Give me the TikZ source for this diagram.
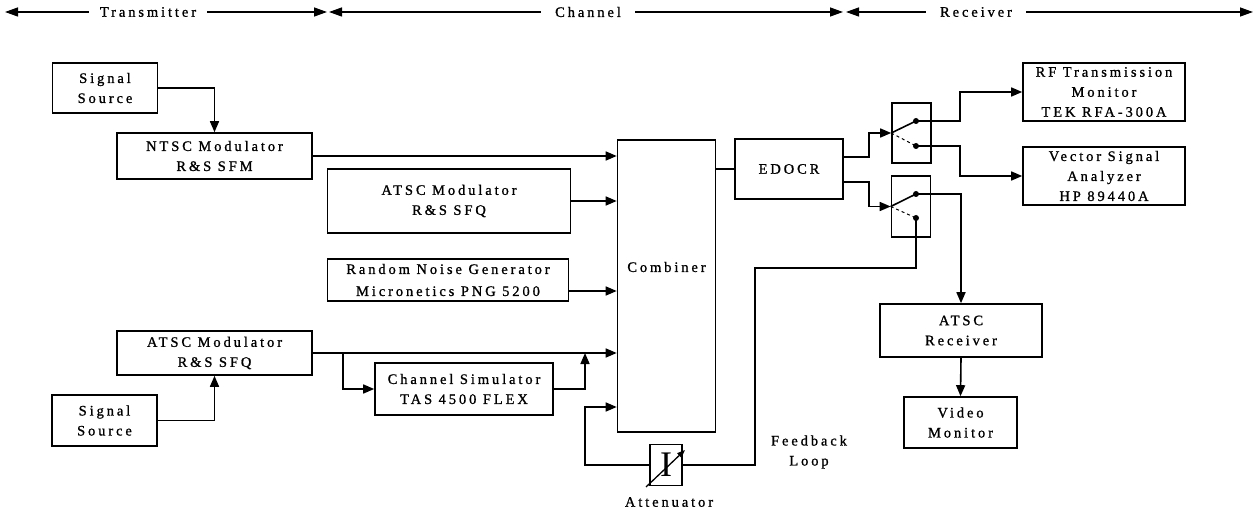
\documentclass[tikz,border=0pt]{standalone}
\usepackage{fontspec}
\setmainfont{Liberation Serif}
\newfontfamily\lsfont{Liberation Serif}[LetterSpace=20,FakeBold=1]
\usetikzlibrary{arrows.meta,positioning,calc}

\begin{document}
\begin{tikzpicture}[x=1pt,y=-1pt,
  box/.style={draw,line width=1.6pt,inner sep=0pt,align=center,font=\lsfont\fontsize{14.5}{20}\selectfont},
  lbl/.style={inner sep=0pt,align=center,font=\lsfont\fontsize{14.5}{20}\selectfont},
  line/.style={line width=1.6pt},
  arr/.style={line width=1.6pt,-{Triangle[length=11pt,width=9pt]}},
  hdr/.style={line width=1.3pt,{Triangle[length=13pt,width=9pt]}-{Triangle[length=13pt,width=9pt]}},
  swbox/.style={draw,line width=1.6pt,minimum width=39,minimum height=60,inner sep=0pt}]
  \useasboundingbox (0,0) rectangle (1255,513);
  % header
  \coordinate (h0) at (5,12);
  \coordinate (h1) at (327,12);
  \coordinate (h2) at (329,12);
  \coordinate (h3) at (843,12);
  \coordinate (h4) at (846,12);
  \coordinate (h5) at (1253,12);
  \draw[hdr] (h0) -- (h1);
  \draw[hdr] (h2) -- (h3);
  \draw[hdr] (h4) -- (h5);
  \node[lbl,fill=white,inner xsep=11pt] (tx) at (148,12) {Transmitter};
  \node[lbl,fill=white,inner xsep=14pt] (ch) at (588,12) {Channel};
  \node[lbl,fill=white,inner xsep=14pt] (rxh) at (976,12) {Receiver};
  % transmitter side
  \node[box,minimum width=105,minimum height=50] (src1) at (105,88) {Signal\\Source};
  \node[box,minimum width=195,minimum height=46] (ntsc) at (214.5,156) {NTSC Modulator\\R\&S SFM};
  \node[box,minimum width=243,minimum height=64] (atsc1) at (449,201) {ATSC Modulator\\R\&S SFQ};
  \node[box,minimum width=241,minimum height=42,font=\lsfont\fontsize{14.5}{22}\selectfont] (rng) at (448,280) {Random Noise Generator\\Micronetics PNG 5200};
  \node[box,minimum width=195,minimum height=44] (atsc2) at (214.5,353) {ATSC Modulator\\R\&S SFQ};
  \node[box,minimum width=105,minimum height=51] (src2) at (104.5,420.5) {Signal\\Source};
  \node[box,minimum width=178,minimum height=52] (chsim) at (464,389) {Channel Simulator\\TAS 4500 FLEX};
  % channel
  \node[box,minimum width=98,minimum height=292] (comb) at (666.5,286) {};
  \node[lbl] (combtxt) at ([yshift=19pt]comb.center) {Combiner};
  \node[box,minimum width=32,minimum height=41] (att) at (666,465) {};
  \node[font=\fontsize{36}{36}\selectfont,inner sep=0pt] (atti) at (att.center) {I};
  \draw[arr,line width=1.3pt,-{Triangle[length=8pt,width=6pt]}] ([shift={(-20,22)}]att.center) -- ([shift={(19,-15)}]att.center);
  \node[lbl] (attlbl) at (669,502) {Attenuator};
  \node[lbl] (fblbl) at (809,452) {Feedback\\Loop};
  \node[box,minimum width=108,minimum height=60] (edocr) at (789,169) {EDOCR};
  % receiver side
  \node[swbox] (sw1) at (911.5,133) {};
  \node[swbox,minimum height=61] (sw2) at (911,206.5) {};
  \coordinate (c1a) at ([shift={(4.5,-12)}]sw1.center);
  \coordinate (c1b) at ([shift={(4.5,13)}]sw1.center);
  \coordinate (c2a) at ([shift={(5,-12.5)}]sw2.center);
  \coordinate (c2b) at ([shift={(5,11.5)}]sw2.center);
  \node[box,minimum width=162,minimum height=58] (rf) at (1104,92) {RF Transmission\\Monitor\\TEK RFA-300A};
  \node[box,minimum width=162,minimum height=58] (vsa) at (1104,176) {Vector Signal\\Analyzer\\HP 89440A};
  \node[box,minimum width=162,minimum height=53] (rx) at (961,330.5) {ATSC\\Receiver};
  \node[box,minimum width=113,minimum height=51] (vm) at (960.5,422.5) {Video\\Monitor};
  \coordinate (split) at (343,0);
  \coordinate (join) at (585,0);
  \coordinate (fbin) at (585,407);
  \coordinate (fbtop) at (755,268);

  \draw[arr] (src1.east) -| (ntsc.north);
  \draw[arr] (src2.east) -| (atsc2.south);
  \draw[arr] (ntsc.east) -- (ntsc.east -| comb.west);
  \draw[arr] (atsc1.east) -- (atsc1.east -| comb.west);
  \draw[arr] ([yshift=-11pt]rng.east) -- ([yshift=-11pt]rng.east -| comb.west);
  \draw[arr] (atsc2.east) -- (atsc2.east -| comb.west);
  \draw[arr] (split |- atsc2.east) |- (chsim.west);
  \draw[arr] (chsim.east) -| (join |- atsc2.east);
  \draw[arr] (att.west) -| (fbin) -- (fbin -| comb.west);
  \draw[line] (att.east) -| (fbtop) -| (c2b);
  \draw[line] (comb.east |- edocr.west) -- (edocr.west);
  \draw[arr] ([yshift=12pt]edocr.east) -- ++(25,0) |- (sw1.west);
  \draw[arr] ([yshift=-13pt]edocr.east) -- ++(25,0) |- (sw2.west);
  \draw[line] (sw1.west) -- (c1a);
  \draw[line width=1pt,dashed] (sw1.west) -- (c1b);
  \draw[line] (sw2.west) -- (c2a);
  \draw[line width=1pt,dashed] (sw2.west) -- (c2b);
  \foreach \c in {c1a,c1b,c2a,c2b} \fill (\c) circle (3);
  \draw[arr] (c1a) -- ++(44,0) |- (rf.west);
  \draw[arr] (c1b) -- ++(44,0) |- (vsa.west);
  \draw[arr] (c2a) -| (rx.north);
  \draw[arr] (rx.south) -- (vm.north);
\end{tikzpicture}
\end{document}
